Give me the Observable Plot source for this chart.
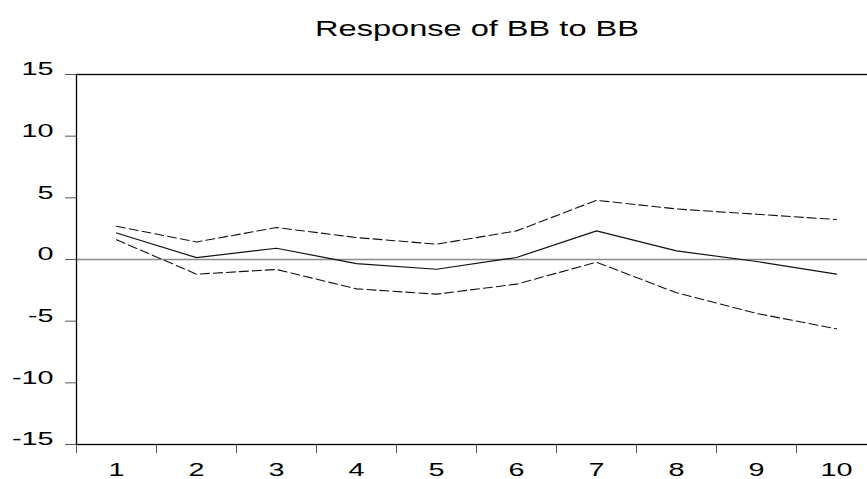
<!DOCTYPE html>
<html><head><meta charset="utf-8">
<script src="https://cdn.jsdelivr.net/npm/d3@7"></script>
<script src="https://cdn.jsdelivr.net/npm/@observablehq/plot@0.6"></script>
<style>
html,body{margin:0;padding:0;background:#fff;overflow:hidden;width:867px;height:479px;}
#title{position:relative;height:50px;width:877px;font-family:"Liberation Sans",Arial,sans-serif;color:#000;}
#title span{position:absolute;left:477px;top:18px;line-height:22px;font-size:22px;white-space:nowrap;transform:translateX(-50%) scaleX(1.48);}
#chart{width:877px;}
#chart svg{display:block;overflow:visible;max-width:none !important;width:877px !important;height:429px !important;}
</style>
</head><body>
<div id="title"><span>Response of BB to BB</span></div>
<div id="chart"></div>
<script>
const steps = [1, 2, 3, 4, 5, 6, 7, 8, 9, 10];
const response = [2.15, 0.15, 0.91, -0.33, -0.79, 0.16, 2.32, 0.70, -0.16, -1.19];
const upper = [2.70, 1.42, 2.59, 1.78, 1.24, 2.32, 4.80, 4.10, 3.67, 3.24];
const lower = [1.60, -1.19, -0.81, -2.38, -2.81, -2.00, -0.22, -2.70, -4.37, -5.62];
const yTicks = [-15, -10, -5, 0, 5, 10, 15];
const xBounds = [0.5, 1.5, 2.5, 3.5, 4.5, 5.5, 6.5, 7.5, 8.5, 9.5, 10.5];

const rows = steps.map((s, i) => ({step: s, response: response[i], upper: upper[i], lower: lower[i]}));

const plot = Plot.plot({
  width: 877,
  height: 429,
  marginTop: 24,
  marginBottom: 35,
  marginLeft: 76,
  marginRight: 1,
  style: {fontFamily: '"Liberation Sans", Arial, sans-serif', background: "#fff", color: "#000", maxWidth: "none"},
  x: {domain: [0.5, 10.5]},
  y: {domain: [-15, 15]},
  marks: [
    Plot.ruleY([0], {stroke: "#8a8a8a", strokeWidth: 1.5}),
    Plot.line(rows, {x: "step", y: "upper", stroke: "#111", strokeWidth: 1.1, strokeDasharray: "9,4"}),
    Plot.line(rows, {x: "step", y: "lower", stroke: "#111", strokeWidth: 1.1, strokeDasharray: "9,4"}),
    Plot.line(rows, {x: "step", y: "response", stroke: "#111", strokeWidth: 1.2}),
    Plot.axisY({ticks: yTicks, tickSize: 11, tickFormat: () => "", stroke: "#555", label: null}),
    Plot.axisY({ticks: yTicks, tickSize: 0, tickPadding: 23, fontSize: 18, fill: "#000", dy: -5, label: null, tickFormat: d => String(d)}),
    Plot.axisX({ticks: xBounds, tickSize: 9, tickFormat: () => "", stroke: "#555", label: null}),
    Plot.axisX({ticks: steps, tickSize: 0, tickPadding: 19, fontSize: 18, fill: "#000", label: null, tickFormat: d => String(d)}),
    Plot.frame({stroke: "#000", strokeWidth: 1.3})
  ]
});

document.getElementById("chart").appendChild(plot);

plot.querySelectorAll('g[aria-label="y-axis tick label"] text, g[aria-label="x-axis tick label"] text').forEach(t => {
  if (!t.textContent) return;
  const tr = t.getAttribute("transform") || "";
  t.setAttribute("transform", (tr + " scale(1.6,1)").trim());
});
</script>
</body></html>
